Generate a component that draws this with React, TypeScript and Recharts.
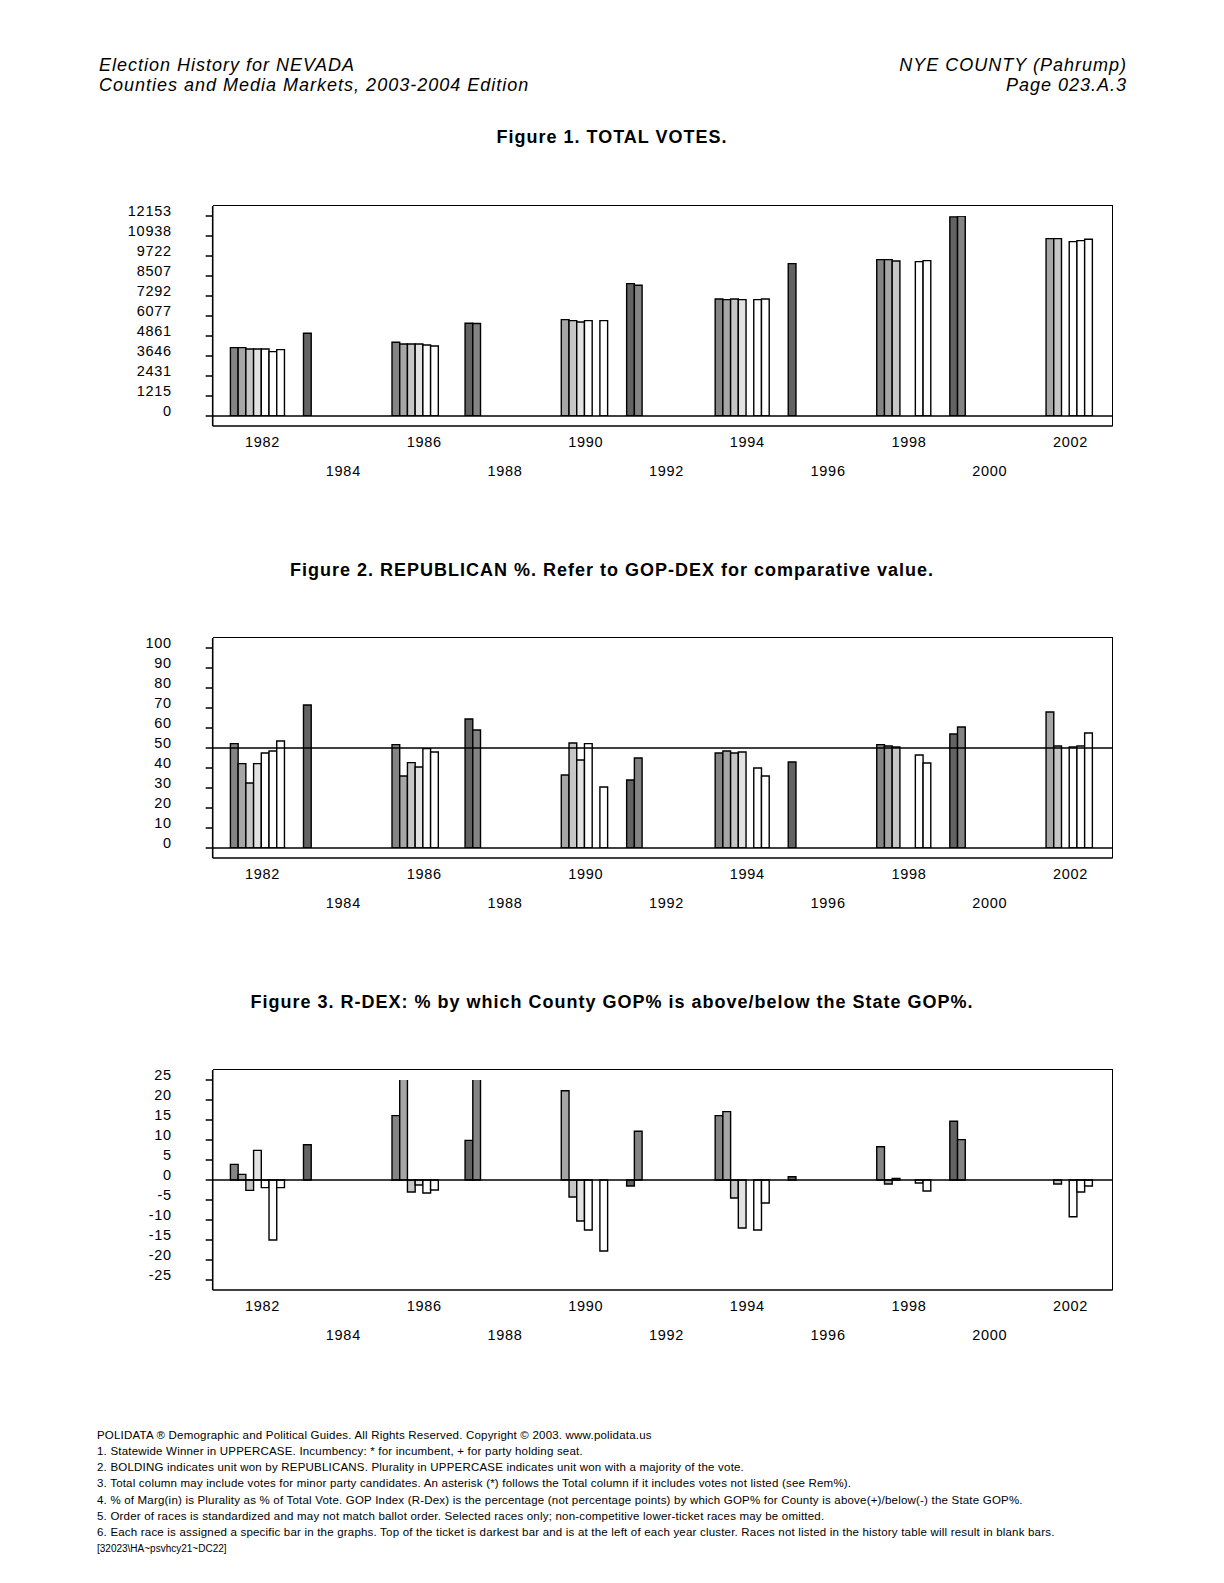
import { BarChart, Bar, XAxis, YAxis, ReferenceLine } from 'recharts';

const years = ['1982', '1984', '1986', '1988', '1990', '1992', '1994', '1996', '1998', '2000', '2002'];

// Figure 1: total votes, one array per race slot (slot 0 = top of the ticket)
const votesR0 = [null, 5026, null, 5633, null, 8046, null, 9261, null, 12100, null];
const votesR1 = [4157, null, 4479, 5620, null, 7943, 7110, null, 9504, 12153, null];
const votesR2 = [4157, null, 4375, null, 5858, null, 7073, null, 9504, null, 10780];
const votesR3 = [4072, null, 4375, null, 5797, null, 7110, null, 9419, null, 10780];
const votesR4 = [4072, null, 4375, null, 5712, null, 7073, null, null, null, null];
const votesR5 = [4072, null, 4315, null, 5797, null, null, null, null, null, 10598];
const votesR6 = [3913, null, 4254, null, null, null, 7073, null, 9383, null, 10659];
const votesR7 = [4035, null, null, null, 5797, null, 7110, null, 9444, null, 10738];

// Figure 2: Republican %
const gopR0 = [null, 71.5, null, 64.5, null, 34, null, 43, null, 57, null];
const gopR1 = [52.2, null, 51.7, 59, null, 45, 47.5, null, 51.7, 60.5, null];
const gopR2 = [42.2, null, 36, null, 36.5, null, 48.5, null, 51, null, 68];
const gopR3 = [32.5, null, 42.7, null, 52.5, null, 47.5, null, 50.5, null, 51];
const gopR4 = [42.2, null, 40.5, null, 44, null, 48, null, null, null, null];
const gopR5 = [47.5, null, 49.7, null, 52.2, null, null, null, null, null, 50.5];
const gopR6 = [48.5, null, 48, null, null, null, 40, null, 46.5, null, 51];
const gopR7 = [53.5, null, null, null, 30.5, null, 36, null, 42.5, null, 57.5];

// Figure 3: R-DEX
const rdexR0 = [null, 8.8, null, 9.9, null, -1.5, null, 0.8, null, 14.7, null];
const rdexR1 = [3.9, null, 16.1, 33, null, 12.2, 16.1, null, 8.3, 10.1, null];
const rdexR2 = [1.4, null, 31, null, 22.3, null, 17.1, null, -1, null, 0];
const rdexR3 = [-2.6, null, -3, null, -4.25, null, -4.5, null, 0.4, null, -1];
const rdexR4 = [7.4, null, -1.25, null, -10.25, null, -12, null, null, null, null];
const rdexR5 = [-1.9, null, -3.25, null, -12.5, null, null, null, null, null, -9.2];
const rdexR6 = [-15, null, -2.5, null, null, null, -12.5, null, -0.75, null, -3];
const rdexR7 = [-1.9, null, null, null, -17.75, null, -5.75, null, -2.75, null, -1.5];

// races 8 and 9 never appear in this county, but keep their slots
const blankRace = years.map(() => null);

const voteTicks = [0, 1215, 2431, 3646, 4861, 6077, 7292, 8507, 9722, 10938, 12153];
const gopTicks = [0, 10, 20, 30, 40, 50, 60, 70, 80, 90, 100];
const rdexTicks = [-25, -20, -15, -10, -5, 0, 5, 10, 15, 20, 25];

const raceFills = ['#636363', '#848484', '#a6a6a6', '#c6c6c6', '#e2e2e2', '#ffffff', '#ffffff', '#ffffff', '#ffffff', '#ffffff'];

const footNotes = [
  'POLIDATA ® Demographic and Political Guides. All Rights Reserved. Copyright © 2003. www.polidata.us',
  '1. Statewide Winner in UPPERCASE. Incumbency: * for incumbent, + for party holding seat.',
  '2. BOLDING indicates unit won by REPUBLICANS. Plurality in UPPERCASE indicates unit won with a majority of the vote.',
  '3. Total column may include votes for minor party candidates. An asterisk (*) follows the Total column if it includes votes not listed (see Rem%).',
  '4. % of Marg(in) is Plurality as % of Total Vote. GOP Index (R-Dex) is the percentage (not percentage points) by which GOP% for County is above(+)/below(-) the State GOP%.',
  '5. Order of races is standardized and may not match ballot order. Selected races only; non-competitive lower-ticket races may be omitted.',
  '6. Each race is assigned a specific bar in the graphs. Top of the ticket is darkest bar and is at the left of each year cluster. Races not listed in the history table will result in blank bars.',
];

const font = "'Liberation Sans', Arial, Helvetica, sans-serif";

function buildRows(series: (number | null)[][]) {
  return years.map((year, i) => {
    const row: Record<string, string | number | null> = { year };
    series.forEach((s, k) => {
      row[`r${k}`] = s[i];
    });
    return row;
  });
}

const votesRows = buildRows([votesR0, votesR1, votesR2, votesR3, votesR4, votesR5, votesR6, votesR7, blankRace, blankRace]);
const gopRows = buildRows([gopR0, gopR1, gopR2, gopR3, gopR4, gopR5, gopR6, gopR7, blankRace, blankRace]);
const rdexRows = buildRows([rdexR0, rdexR1, rdexR2, rdexR3, rdexR4, rdexR5, rdexR6, rdexR7, blankRace, blankRace]);

function yearTick(props: any) {
  const { x, y, payload } = props;
  const lower = years.indexOf(payload.value) % 2 === 1;
  return (
    <text
      x={x + 1.5}
      y={y + (lower ? 45 : 15.5)}
      textAnchor="middle"
      dominantBaseline="central"
      fontFamily={font}
      fontSize={14.5}
      letterSpacing={0.7}
      fill="#000"
    >
      {payload.value}
    </text>
  );
}

function valueTick(props: any) {
  const { x, y, payload } = props;
  return (
    <text
      x={x}
      y={y - 5}
      textAnchor="end"
      dominantBaseline="central"
      fontFamily={font}
      fontSize={14.5}
      letterSpacing={0.7}
      fill="#000"
    >
      {payload.value}
    </text>
  );
}

const frameLine = { stroke: '#000', strokeWidth: 1.6 };

interface ElectionChartProps {
  top: number;
  rows: Record<string, string | number | null>[];
  ticks: number[];
  domain: [number, number];
  lines: number[];
}

function ElectionChart({ top, rows, ticks, domain, lines }: ElectionChartProps) {
  return (
    <div style={{ position: 'absolute', left: 0, top, width: 1224, height: 290 }}>
      <BarChart
        width={1224}
        height={290}
        data={rows}
        margin={{ top: 10, right: 111.3, left: 0, bottom: 0 }}
        barGap={0}
        barSize={7.72}
      >
        <XAxis
          dataKey="year"
          height={60}
          interval={0}
          padding={{ left: 8, right: 3.3 }}
          axisLine={frameLine}
          tickLine={false}
          tickSize={0}
          tickMargin={0}
          tick={yearTick}
        />
        <YAxis
          width={212.7}
          type="number"
          domain={domain}
          ticks={ticks}
          interval={0}
          allowDataOverflow
          padding={{ top: 10, bottom: 10 }}
          axisLine={frameLine}
          tickLine={{ stroke: '#000', strokeWidth: 1.5 }}
          tickSize={7}
          tickMargin={34}
          tick={valueTick}
        />
        {raceFills.map((fill, k) => (
          <Bar
            key={k}
            dataKey={`r${k}`}
            fill={fill}
            stroke="#000"
            strokeWidth={1.4}
            isAnimationActive={false}
          />
        ))}
        {lines.map((v) => (
          <ReferenceLine key={v} y={v} stroke="#000" strokeWidth={1.6} />
        ))}
      </BarChart>
      {/* top and right edges of the plot frame */}
      <div
        style={{
          position: 'absolute',
          left: 212.7,
          top: 9.2,
          width: 900.8,
          height: 221,
          boxSizing: 'border-box',
          borderTop: '1.6px solid #000',
          borderRight: '1.6px solid #000',
          pointerEvents: 'none',
        }}
      />
    </div>
  );
}

const titleStyle: React.CSSProperties = {
  position: 'absolute',
  left: 0,
  width: 1224,
  height: 24,
  lineHeight: '24px',
  textAlign: 'center',
  fontFamily: font,
  fontWeight: 'bold',
  fontSize: 18,
  letterSpacing: 1,
  whiteSpace: 'nowrap',
};

const headStyle: React.CSSProperties = {
  position: 'absolute',
  height: 20,
  lineHeight: '20px',
  fontFamily: font,
  fontStyle: 'italic',
  fontSize: 18,
  letterSpacing: 1,
  whiteSpace: 'nowrap',
};

export default function App() {
  return (
    <div style={{ position: 'absolute', left: 0, top: 0, width: 1224, height: 1583, background: '#fff', color: '#000' }}>
      <div style={{ ...headStyle, left: 99, top: 54.6 }}>Election History for NEVADA</div>
      <div style={{ ...headStyle, left: 99, top: 74.8 }}>Counties and Media Markets, 2003-2004 Edition</div>
      <div style={{ ...headStyle, right: 97, top: 54.6, textAlign: 'right' }}>NYE COUNTY (Pahrump)</div>
      <div style={{ ...headStyle, right: 97, top: 74.8, textAlign: 'right' }}>Page 023.A.3</div>

      <div style={{ ...titleStyle, top: 125.3 }}>Figure 1. TOTAL VOTES.</div>
      <ElectionChart top={195.7} rows={votesRows} ticks={voteTicks} domain={[0, 12153]} lines={[0]} />

      <div style={{ ...titleStyle, top: 557.6 }}>Figure 2. REPUBLICAN %. Refer to GOP-DEX for comparative value.</div>
      <ElectionChart top={627.7} rows={gopRows} ticks={gopTicks} domain={[0, 100]} lines={[0, 50]} />

      <div style={{ ...titleStyle, top: 989.8 }}>Figure 3. R-DEX: % by which County GOP% is above/below the State GOP%.</div>
      <ElectionChart top={1060} rows={rdexRows} ticks={rdexTicks} domain={[-25, 25]} lines={[0]} />

      {footNotes.map((line, i) => (
        <div
          key={i}
          style={{
            position: 'absolute',
            left: 97,
            top: 1427 + i * 16.15,
            height: 16,
            lineHeight: '16px',
            fontFamily: font,
            fontSize: 11.5,
            letterSpacing: 0.2,
            whiteSpace: 'nowrap',
          }}
        >
          {line}
        </div>
      ))}
      <div
        style={{
          position: 'absolute',
          left: 97,
          top: 1542.2,
          height: 14,
          lineHeight: '14px',
          fontFamily: font,
          fontSize: 10,
          whiteSpace: 'nowrap',
        }}
      >
        [32023\HA~psvhcy21~DC22]
      </div>
    </div>
  );
}
